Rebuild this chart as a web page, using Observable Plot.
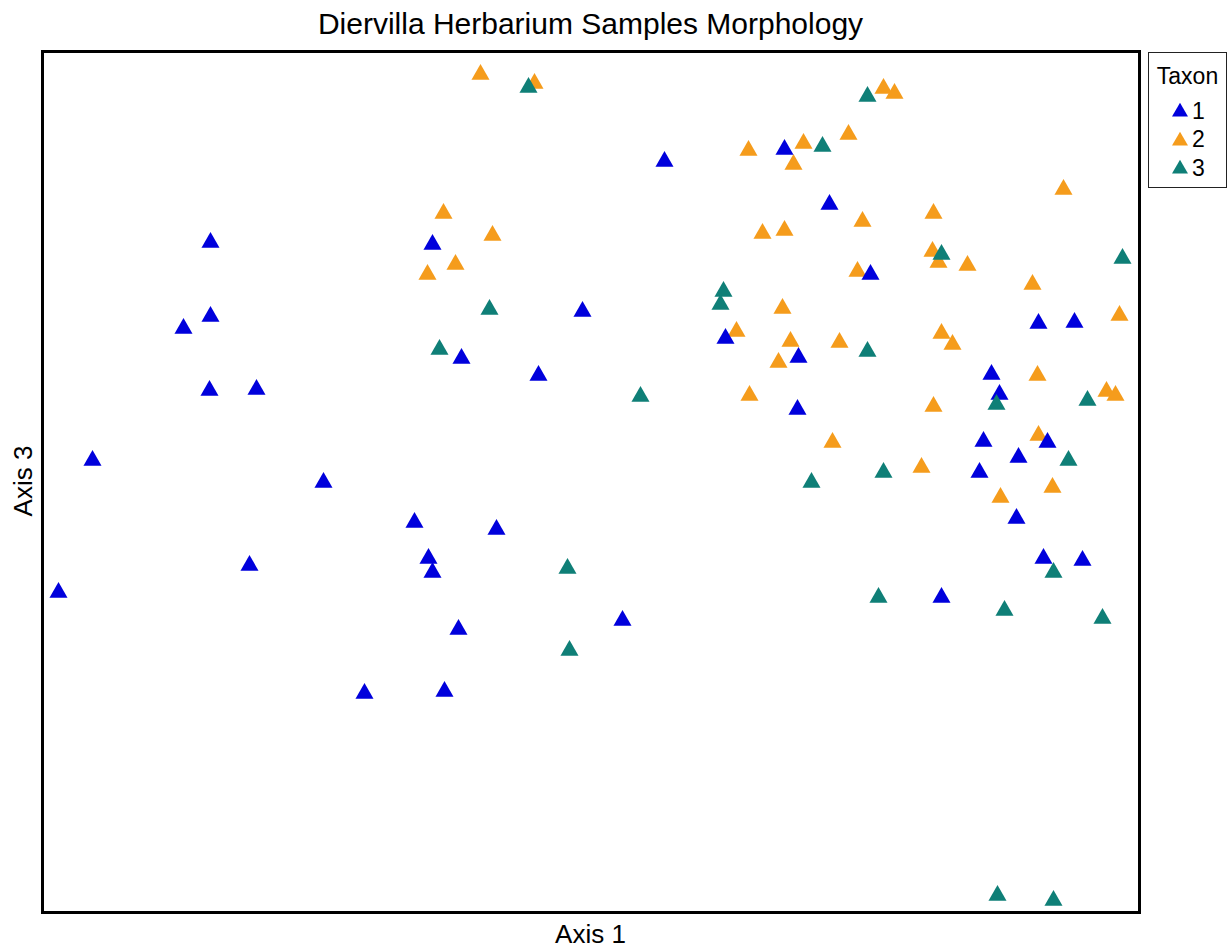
<!DOCTYPE html>
<html>
<head>
<meta charset="utf-8">
<script src="https://cdn.jsdelivr.net/npm/d3@7"></script>
<script src="https://cdn.jsdelivr.net/npm/@observablehq/plot@0.6"></script>
<style>
  html, body { margin: 0; padding: 0; background: #fff; }
  body { font-family: "Liberation Sans", Arial, sans-serif; color: #000; }
  #wrap { position: relative; width: 1231px; height: 950px; overflow: hidden; }
  #chart { position: absolute; left: 0; top: 0; }
  #title { position: absolute; left: 42px; width: 1097px; top: 6px; text-align: center; font-size: 30px; line-height: 36px; }
  #xlabel { position: absolute; left: 42px; width: 1097px; top: 918px; text-align: center; font-size: 26px; line-height: 32px; }
  #ylabel { position: absolute; left: 23px; top: 481px; transform: translate(-50%, -50%) rotate(-90deg); font-size: 26px; line-height: 30px; white-space: nowrap; }
  #legend { position: absolute; left: 1148px; top: 52px; width: 77px; height: 134px; border: 1.5px solid #222; box-sizing: content-box; }
  #legend .ttl { position: absolute; left: 0; width: 77px; top: 9px; text-align: center; font-size: 23px; line-height: 28px; }
  #legend .row { position: absolute; left: 22px; height: 28px; display: flex; align-items: center; font-size: 23px; }
  #legend .row svg { margin-right: 3px; }
</style>
</head>
<body>
<div id="wrap">
  <div id="chart"></div>
  <div id="title"></div>
  <div id="xlabel"></div>
  <div id="ylabel"></div>
  <div id="legend"></div>
</div>
<script>
// Chart texts
const chartTitle = "Diervilla Herbarium Samples Morphology";
const xLabel = "Axis 1";
const yLabel = "Axis 3";
const legendTitle = "Taxon";

// Categories and colours
const taxa = ["1", "2", "3"];
const taxonColors = ["#0000dc", "#f59c1c", "#0f7f77"];

// Ordination scores (arbitrary units; no ticks shown)
const axisRange1 = [0, 1097];
const axisRange3 = [0, 861];

// Taxon 1
const taxon1Axis1 = [16, 50, 141, 168, 168, 167, 214, 207, 281, 322, 372, 386, 390, 390, 402, 416, 419, 454, 496, 540, 580, 622, 683, 742, 756, 755, 787, 828, 899, 941, 937, 949, 957, 974, 976, 996, 1005, 1001, 1032, 1040];
const taxon1Axis3 = [322, 454, 586, 672, 598, 524, 525, 349, 432, 221, 392, 356, 342, 670, 223, 285, 556, 385, 539, 603, 294, 753, 576, 765, 557, 505, 710, 640, 317, 473, 442, 540, 520, 396, 457, 591, 472, 356, 592, 354];

// Taxon 2
const taxon2Axis1 = [438, 492, 401, 450, 385, 413, 706, 761, 751, 806, 841, 852, 720, 742, 820, 891, 890, 896, 925, 815, 1021, 740, 694, 748, 797, 899, 910, 736, 707, 891, 990, 995, 1064, 1073, 1077, 790, 879, 958, 1010, 996];
const taxon2Axis3 = [840, 831, 701, 679, 640, 650, 764, 771, 750, 780, 826, 821, 681, 684, 693, 701, 663, 652, 649, 643, 725, 606, 583, 573, 572, 581, 570, 552, 519, 508, 630, 539, 523, 519, 599, 472, 447, 417, 427, 479];

// Taxon 3
const taxon3Axis1 = [486, 825, 780, 899, 1080, 681, 678, 447, 397, 598, 825, 954, 1045, 841, 769, 1026, 525, 527, 836, 962, 1011, 1060, 955, 1011];
const taxon3Axis3 = [827, 818, 768, 660, 656, 623, 610, 605, 565, 518, 563, 510, 514, 442, 432, 454, 346, 264, 317, 304, 342, 296, 19, 14];

function rows(taxon, xs, ys) {
  return xs.map((x, i) => ({taxon, axis1: x, axis3: ys[i]}));
}
// drawing order: taxon 2 first, then 1, then 3 on top
const samples = [
  ...rows("2", taxon2Axis1, taxon2Axis3),
  ...rows("1", taxon1Axis1, taxon1Axis3),
  ...rows("3", taxon3Axis1, taxon3Axis3)
];

const plot = Plot.plot({
  width: 1231,
  height: 950,
  marginLeft: 42,
  marginRight: 92,
  marginTop: 51,
  marginBottom: 38,
  style: {background: "#fff", overflow: "visible"},
  x: {domain: axisRange1, axis: null},
  y: {domain: axisRange3, axis: null},
  color: {domain: taxa, range: taxonColors},
  marks: [
    Plot.dot(samples, {x: "axis1", y: "axis3", symbol: "triangle", r: 6.7, dy: 2, fill: "taxon", stroke: "none"}),
    Plot.frame({stroke: "#000", strokeWidth: 3})
  ]
});
document.getElementById("chart").appendChild(plot);

document.getElementById("title").textContent = chartTitle;
document.getElementById("xlabel").textContent = xLabel;
document.getElementById("ylabel").textContent = yLabel;

const legend = document.getElementById("legend");
const lt = document.createElement("div");
lt.className = "ttl";
lt.textContent = legendTitle;
legend.appendChild(lt);
const tri = d3.symbol(d3.symbolTriangle, 110)();
taxa.forEach((t, i) => {
  const row = document.createElement("div");
  row.className = "row";
  row.style.top = (44 + i * 28.5) + "px";
  row.innerHTML = `<svg width="18" height="18" viewBox="-9 -10 18 18"><path d="${tri}" fill="${taxonColors[i]}"/></svg><span>${t}</span>`;
  legend.appendChild(row);
});
</script>
</body>
</html>
